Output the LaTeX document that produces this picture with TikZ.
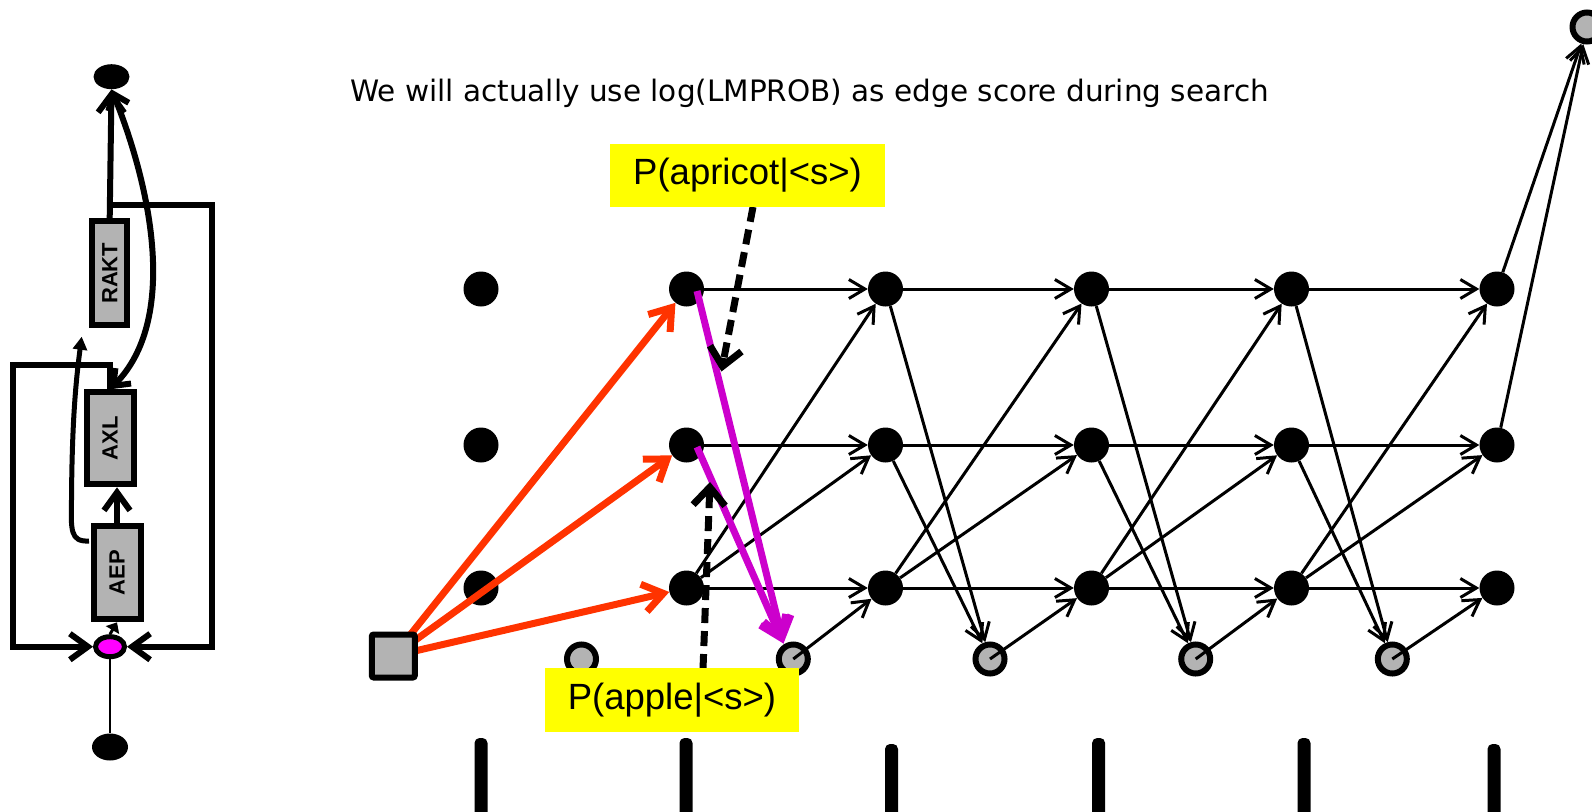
\documentclass[tikz,border=0pt]{standalone}
\usepackage{fontspec}
\setmainfont{Liberation Sans}
\newfontfamily\titlefont{DejaVu Sans}
\usetikzlibrary{arrows.meta,shapes.geometric}
\definecolor{lgray}{HTML}{B3B3B3}
\definecolor{redor}{HTML}{FF3300}
\definecolor{magA}{HTML}{CC00CC}
\definecolor{magN}{HTML}{FF00FF}
\definecolor{ylw}{HTML}{FFFF00}
\begin{document}
\begin{tikzpicture}[x=1pt,y=-1pt,
  bdot/.style={circle,fill=black,inner sep=0pt,minimum size=35pt},
  gdot/.style={circle,fill=lgray,draw=black,line width=6pt,inner sep=0pt,minimum size=29pt},
  edge/.style={line width=3pt,-{Straight Barb[length=16pt,width=19pt]}},
  redarr/.style={redor,line width=7pt,-{Straight Barb[length=20pt,width=28pt]}},
  magarr/.style={magA,line width=7pt,-{Straight Barb[length=20pt,width=28pt]}},
  dashline/.style={line width=7pt,dash pattern=on 15pt off 8pt},
  dashtip/.style={line width=7pt,solid,-{Straight Barb[length=18pt,width=32pt]}},
  phbox/.style={draw=black,fill=lgray,line width=6pt,inner sep=0pt,font=\bfseries\fontsize{22pt}{24pt}\selectfont},
  lthick/.style={line width=6pt},
  openhd/.style={-{Straight Barb[length=18pt,width=26pt]}},
  trihd/.style={-{Triangle[length=13pt,width=14pt]}},
  ylab/.style={fill=ylw,inner sep=0pt,font=\fontsize{36.5pt}{40pt}\selectfont},
  barnode/.style={fill=black,rectangle,rounded corners=5pt,inner sep=0pt,minimum width=13pt,minimum height=90pt},
  sqbox/.style={rectangle,draw=black,fill=lgray,line width=6pt,rounded corners=2pt,inner sep=0pt,minimum size=43pt}
]
\useasboundingbox (0,0) rectangle (1592,811);

% ---------------- left word model ----------------
\node[ellipse,fill=black,minimum width=36pt,minimum height=25pt,inner sep=0pt] (top) at (111.5,76.7) {};
\node[phbox,minimum width=35pt,minimum height=104pt] (rakt) at (109.7,273.3) {\rotatebox{90}{RAKT}};
\node[phbox,minimum width=47pt,minimum height=92pt] (axl) at (110,438.3) {\rotatebox{90}{AXL}};
\node[phbox,minimum width=47pt,minimum height=93pt] (aep) at (117,572.8) {\rotatebox{90}{AEP}};
\node[ellipse,fill=magN,draw=black,line width=5pt,minimum width=29pt,minimum height=20pt,inner sep=0pt] (mag) at (110,646.7) {};
\node[ellipse,fill=black,minimum width=36pt,minimum height=27pt,inner sep=0pt] (bot) at (110,747) {};

\coordinate (j1) at (110.5,205);
\coordinate (rl1) at (211.7,205);
\coordinate (rl2) at (211.7,646.7);
\coordinate (ll0) at (110,365);
\coordinate (ll1) at (13.3,365);
\coordinate (ll2) at (13.3,646.7);
\coordinate (c1) at (89,541);
\coordinate (c1e) at (81.7,336.7);

\draw[lthick,openhd] (rakt.north) -- (top.south);
\draw[lthick,openhd] (j1) -- (rl1) -- (rl2) -- (mag.east);
\draw[lthick,openhd] (axl.north) -- (ll0) -- (ll1) -- (ll2) -- (mag.west);
\draw[lthick,{Straight Barb[length=14pt,width=22pt]}-{Straight Barb[length=14pt,width=22pt]}]
  (axl.north) .. controls (178,320) and (152,190) .. (top.south);
\draw[line width=5pt,trihd] (c1) .. controls (70,542) and (71,530) .. (71.5,500)
  .. controls (72,420) and (76,380) .. (c1e);
\draw[lthick,openhd] (aep.north) -- (aep.north |- axl.south);
\draw[line width=3pt,-{Triangle[length=9pt,width=15pt]}] (mag.north) -- (aep.south);
\draw[line width=2.5pt] (mag.south) -- (bot.north);

% ---------------- title ----------------
\node[anchor=base west,inner sep=0pt,font=\titlefont\fontsize{29.5pt}{34pt}\selectfont] (title) at (350,101)
  {We will actually use log(LMPROB) as edge score during search};

% ---------------- lattice nodes ----------------
\foreach \c/\x in {0/481,1/686.5,2/885.5,3/1091.5,4/1291.5,5/1497}{
  \node[bdot] (n\c1) at (\x,289) {};
  \node[bdot] (n\c2) at (\x,445) {};
  \node[bdot] (n\c3) at (\x,588) {};
}
\foreach \g/\x in {0/581.5,1/793.3,2/990,3/1195.7,4/1392.3}{
  \node[gdot] (g\g) at (\x,659) {};
}
\node[gdot] (T) at (1587,27) {};

% ---------------- lattice edges ----------------
\foreach \a/\b in {1/2,2/3,3/4,4/5}{
  \draw[edge] (n\a1) -- (n\b1);
  \draw[edge] (n\a2) -- (n\b2);
  \draw[edge] (n\a3) -- (n\b3);
  \draw[edge] (n\a3) -- (n\b1);
  \draw[edge] (n\a3) -- (n\b2);
  \draw[edge] (g\a.center) -- (n\b3);
}
\foreach \a in {2,3,4}{
  \draw[edge] (n\a1) -- (g\a);
  \draw[edge] (n\a2) -- (g\a);
}
\draw[edge] (n51) -- (T);
\draw[edge] (n52) -- (T);

% ---------------- start square and red arrows ----------------
\coordinate (sqc) at (393.3,656);
\draw[redarr] (sqc) -- (n11);
\draw[redarr] (sqc) -- (n12);
\draw[redarr] (sqc) -- (n13);
\node[sqbox] (sq) at (sqc) {};

% ---------------- magenta arrows ----------------
\coordinate (m1) at (697,291);
\coordinate (m2) at (697,447);
\coordinate (mt) at (783.5,643.5);
\draw[magarr] (m1) -- (mt);
\draw[magarr] (m2) -- (mt);

% ---------------- dashed pointers ----------------
\coordinate (d1s) at (753,207);
\coordinate (d1h) at (724,358);
\coordinate (d1e) at (721.5,371.5);
\coordinate (d2s) at (703,669);
\coordinate (d2h) at (709.5,495);
\coordinate (d2e) at (710,482);
\draw[dashline] (d1s) -- (d1h);
\draw[dashtip] (d1h) -- (d1e);
\draw[dashline] (d2s) -- (d2h);
\draw[dashtip] (d2h) -- (d2e);

% ---------------- labels ----------------
\node[ylab,minimum width=275pt,minimum height=63pt] (lab1) at (747.5,175.5) {P(apricot|<s>)};
\node[ylab,minimum width=254pt,minimum height=64pt] (lab2) at (672,700) {P(apple|<s>)};

% ---------------- bottom bars ----------------
\node[barnode] (bar1) at (481,783) {};
\node[barnode] (bar2) at (686,783) {};
\node[barnode] (bar3) at (891.5,789) {};
\node[barnode] (bar4) at (1098.6,783) {};
\node[barnode] (bar5) at (1304,783) {};
\node[barnode] (bar6) at (1494,789) {};
\end{tikzpicture}
\end{document}
